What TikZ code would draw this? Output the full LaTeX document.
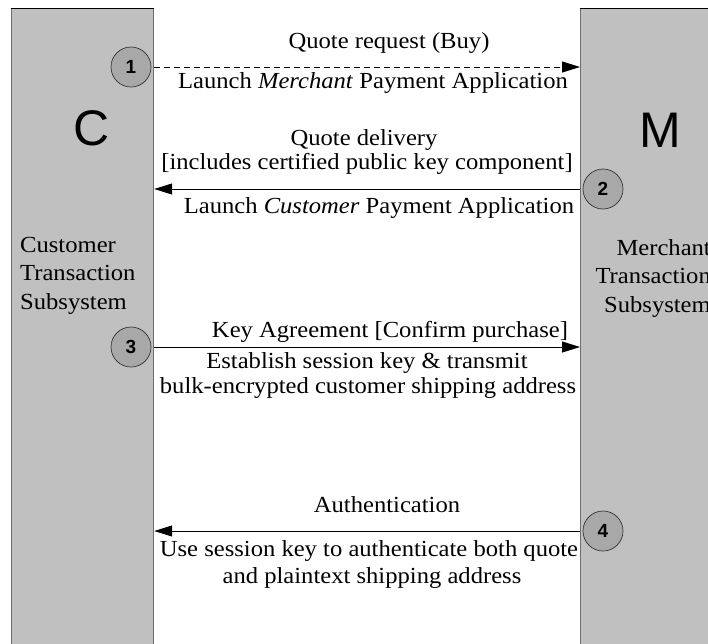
\documentclass[tikz,border=0pt]{standalone}
\usepackage{fontspec}
\setmainfont{Liberation Serif}[FakeStretch=1.07]
\setsansfont{Liberation Sans}
\usetikzlibrary{arrows.meta}

\definecolor{laneGrey}{HTML}{C0C0C0}
\definecolor{badgeGrey}{HTML}{A8A8A8}
\definecolor{edgeGrey}{HTML}{6E6E6E}

\newcommand{\msgfont}{\fontsize{23}{28.5}\selectfont}

\tikzset{
  lane/.style={fill=laneGrey, draw=edgeGrey, line width=1.2pt, anchor=north west,
               inner sep=0pt, minimum height=700pt},
  badge/.style={circle, fill=badgeGrey, draw=black!80, line width=0.7pt,
                minimum size=40pt, inner sep=0pt,
                font=\sffamily\bfseries\fontsize{19}{19}\selectfont},
  party/.style={anchor=base, inner sep=0pt, font=\sffamily\fontsize{50}{50}\selectfont},
  msgtext/.style={anchor=base, inner sep=0pt, font=\msgfont},
  sidetext/.style={inner sep=0pt, font=\msgfont},
  msg/.style={line width=0.8pt, -{Triangle[length=18pt,width=11pt]}},
  optmsg/.style={msg, dash pattern=on 6pt off 4pt},
}

\begin{document}
\begin{tikzpicture}[x=1pt, y=-1pt]
  \useasboundingbox (0,0) rectangle (708,643);
  \clip (0,0) rectangle (708,643);

  % the two subsystem lanes
  \node[lane, minimum width=142.5pt] (laneC) at (10.5,8) {};
  \node[lane, minimum width=150pt] (laneM) at (580,8) {};
  \draw[black, line width=0.8pt] (laneC.north west) -- (laneC.north east);
  \draw[black, line width=0.8pt] (laneM.north west) -- (laneM.north east);

  % party letters
  \node[party] (bigC) at (92,145) {C};
  \node[party] (bigM) at (660,147) {M};

  % subsystem names (the base anchor sits on the last line)
  \node[sidetext, anchor=base west, align=left] (nameC) at (20,309)
    {Customer\\Transaction\\Subsystem};
  \node[sidetext, anchor=base east, align=right] (nameM) at (711,312)
    {Merchant\\Transaction\\Subsystem};

  % step markers
  \node[badge] (n1) at (131,67) {1};
  \node[badge] (n2) at (603,189) {2};
  \node[badge] (n3) at (131,347) {3};
  \node[badge] (n4) at (603,531) {4};

  % messages
  \draw[optmsg] (laneC.east |- n1) -- (laneM.west |- n1);
  \draw[msg] (laneM.west |- n2) -- (laneC.east |- n2);
  \draw[msg] (laneC.east |- n3) -- (laneM.west |- n3);
  \draw[msg] (laneM.west |- n4) -- (laneC.east |- n4);

  % message labels
  \node[msgtext] (m1a) at (389,48) {Quote request (Buy)};
  \node[msgtext] (m1b) at (373,88) {Launch \textit{Merchant} Payment Application};

  \node[msgtext] (m2a) at (364,145) {Quote delivery};
  \node[msgtext] (m2b) at (367,169) {[includes certified public key component]};
  \node[msgtext] (m2c) at (379,213) {Launch \textit{Customer} Payment Application};

  \node[msgtext] (m3a) at (390,337) {Key Agreement [Confirm purchase]};
  \node[msgtext] (m3b) at (367,368) {Establish session key \& transmit};
  \node[msgtext] (m3c) at (368,393) {bulk-encrypted customer shipping address};

  \node[msgtext] (m4a) at (387,512) {Authentication};
  \node[msgtext] (m4b) at (369,556) {Use session key to authenticate both quote};
  \node[msgtext] (m4c) at (372,583) {and plaintext shipping address};
\end{tikzpicture}
\end{document}
